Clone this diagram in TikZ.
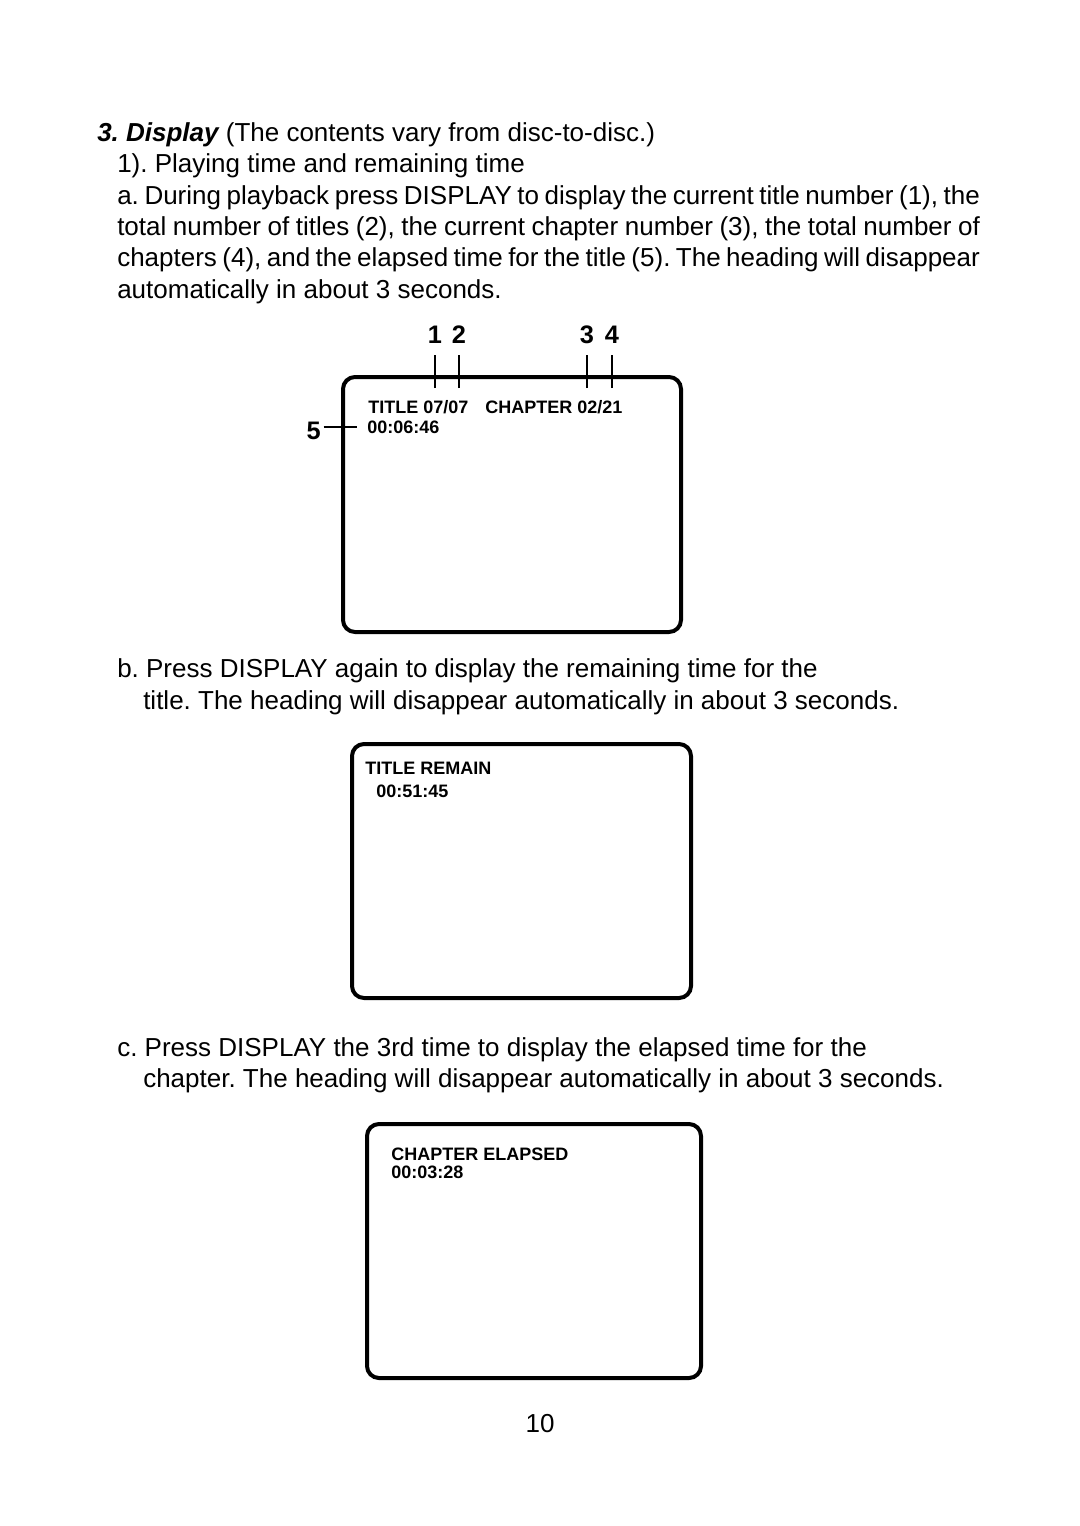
\documentclass[tikz,border=0pt]{standalone}
\usepackage{fontspec}
\setmainfont{Liberation Sans}
\frenchspacing
\begin{document}
\begin{tikzpicture}[x=0.75pt,y=-0.75pt,
  body/.style={anchor=base west,inner sep=0pt,font=\fontsize{19.5}{23.5}\selectfont},
  screen/.style={line width=3pt,rounded corners=9pt},
  osd/.style={anchor=base west,inner sep=0pt,font=\fontsize{13.5}{16}\selectfont\bfseries},
  callout/.style={anchor=base,inner sep=0pt,font=\fontsize{19}{22}\selectfont\bfseries},
  tick/.style={line width=1.3pt}]
\useasboundingbox (0,0) rectangle (1080,1526);
% heading and part a
\node[body] (head) at (97,142) {{\bfseries\itshape 3. Display} (The contents vary from disc-to-disc.)};
\node[body] (sub) at (117,173) {1). Playing time and remaining time};
\node[body] (a1) at (117,205) {\makebox[647pt][s]{a. During playback press DISPLAY to display the current title number (1), the}};
\node[body] (a2) at (117,236) {\makebox[647pt][s]{total number of titles (2), the current chapter number (3), the total number of}};
\node[body] (a3) at (117,267) {\makebox[647pt][s]{chapters (4), and the elapsed time for the title (5). The heading will disappear}};
\node[body] (a4) at (117,299) {automatically in about 3 seconds.};
% first screen
\draw[screen] (343,377) rectangle (681,632);
\node[osd] (ttl) at (368,413) {TITLE 07/07\hspace{0.95em}CHAPTER 02/21};
\node[osd] (tim) at (367,433) {00:06:46};
\foreach \n/\x in {1/435,2/459,3/587,4/612} {
  \node[callout] (n\n) at (\x,344) {\n};
  \coordinate (t\n) at (\x,388);
  \draw[tick] (t\n) -- (t\n |- 0,355);
}
\node[callout,anchor=base east] (n5) at (321,439) {5};
\coordinate (l5) at (357,427);
\draw[tick] ([xshift=2]n5.east |- l5) -- (l5);
% part b
\node[body] (b1) at (117,677) {b. Press DISPLAY again to display the remaining time for the};
\node[body] (b2) at (143,709) {title. The heading will disappear automatically in about 3 seconds.};
\draw[screen] (352,744) rectangle (691,998);
\node[osd] (rem) at (365,774) {TITLE REMAIN};
\node[osd] (rtim) at (376,797) {00:51:45};
% part c
\node[body] (c1) at (117,1056) {c. Press DISPLAY the 3rd time to display the elapsed time for the};
\node[body] (c2) at (143,1087) {chapter. The heading will disappear automatically in about 3 seconds.};
\draw[screen] (367,1124) rectangle (701,1378);
\node[osd] (chp) at (391,1160) {CHAPTER ELAPSED};
\node[osd] (ctim) at (391,1178) {00:03:28};
\node[body,anchor=base] (page) at (540,1432) {10};
\end{tikzpicture}
\end{document}
